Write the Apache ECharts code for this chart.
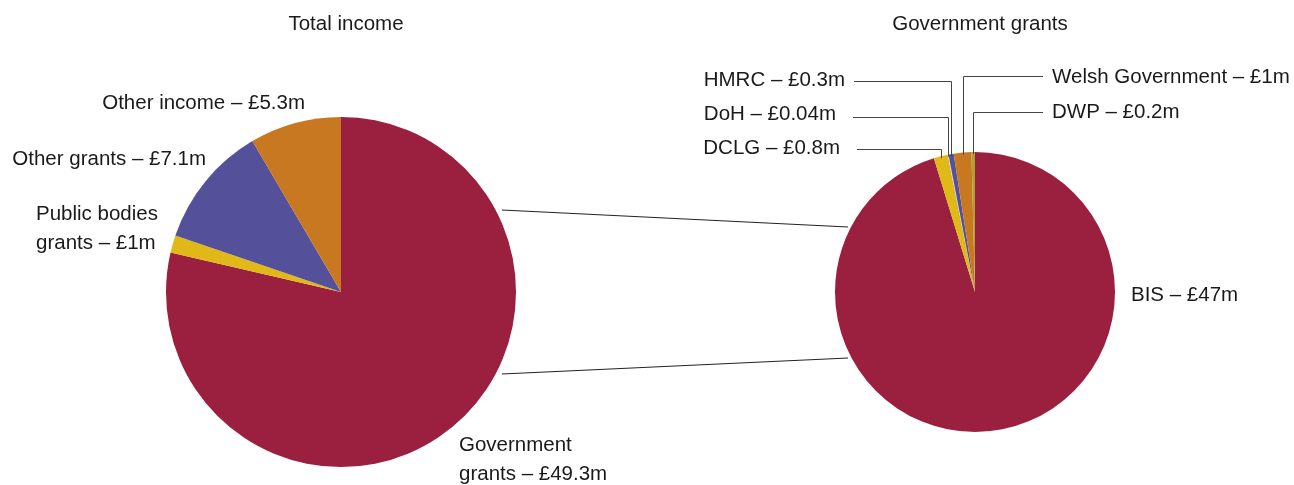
<!DOCTYPE html>
<html><head><meta charset="utf-8">
<script src="https://cdn.jsdelivr.net/npm/echarts@6/dist/echarts.min.js"></script>
<style>html,body{margin:0;padding:0;background:#fff}#c{width:1294px;height:485px}</style>
</head><body><div id="c"></div>
<script>
// ---- data ----
const incomeNames = ['Government\ngrants', 'Public bodies\ngrants', 'Other grants', 'Other income'];
const incomeValues = [49.3, 1, 7.1, 5.3];
const incomeLabels = ['£49.3m', '£1m', '£7.1m', '£5.3m'];
const grantNames = ['BIS', 'DCLG', 'DoH', 'HMRC', 'Welsh Government', 'DWP'];
const grantValues = [47, 0.8, 0.04, 0.3, 1, 0.2];
const grantLabels = ['£47m', '£0.8m', '£0.04m', '£0.3m', '£1m', '£0.2m'];

// ---- layout / style ----
const FONT = 'Liberation Sans';
const C1 = [341, 292], R1 = 175;
const C2 = [975, 292], R2 = 140;
const incomeColors = ['#9B2040', '#E0B818', '#545099', '#C87820'];
const grantColors = ['#9B2040', '#E0B818', '#C6DCF2', '#545099', '#C87820', '#B0A030'];
const incomeLabelPos = [
  {x: 459, y: 460, align: 'left'},
  {x: 36, y: 229, align: 'left'},
  {x: 206, y: 159, align: 'right'},
  {x: 305, y: 103, align: 'right'}
];
const grantLabelPos = [
  {x: 1131, y: 295, align: 'left'},
  {x: 840, y: 148, align: 'right', ly: 149, lx: 857},
  {x: 836, y: 114, align: 'right', ly: 117, lx: 853},
  {x: 845, y: 80, align: 'right', ly: 81, lx: 854},
  {x: 1052, y: 77, align: 'left', ly: 76, lx: 1043},
  {x: 1052, y: 112, align: 'left', ly: 112, lx: 1043}
];

const incomeData = incomeNames.map((n, i) => ({
  name: n, value: incomeValues[i], itemStyle: {color: incomeColors[i]},
  label: {formatter: n + ' – ' + incomeLabels[i]}
}));
const grantData = grantNames.map((n, i) => ({
  name: n, value: grantValues[i], itemStyle: {color: grantColors[i]},
  label: {formatter: n + ' – ' + grantLabels[i]}
}));

// leader lines for the grants pie, from each slice's mid angle
const graphics = [];
(function () {
  const total = grantValues.reduce((a, b) => a + b, 0);
  let acc = 0;
  grantValues.forEach((v, i) => {
    const mid = (acc + v / 2) / total * 2 * Math.PI;
    acc += v;
    if (i === 0) return;
    const x = Math.round(C2[0] + R2 * Math.sin(mid)) + 0.5;
    const yS = C2[1] - R2 * Math.cos(mid);
    const p = grantLabelPos[i];
    const ly = p.ly + 0.5;
    graphics.push({type: 'polyline', silent: true, z: 10,
      shape: {points: [[x, yS + 2], [x, ly], [p.lx, ly]]},
      style: {stroke: '#444', lineWidth: 1, fill: null}});
  });
})();
// connector lines between the pies
graphics.push({type: 'line', silent: true, shape: {x1: 502, y1: 210, x2: 848, y2: 227}, style: {stroke: '#222', lineWidth: 1}});
graphics.push({type: 'line', silent: true, shape: {x1: 502, y1: 374, x2: 848, y2: 358}, style: {stroke: '#222', lineWidth: 1}});

const labelStyle = {show: true, color: '#1a1a1a', fontFamily: FONT, fontSize: 20.5, lineHeight: 29, overflow: 'none', width: 400};
function layoutFor(pos) {
  return function (p) {
    const q = pos[p.dataIndex];
    return {x: q.x, y: q.y, align: q.align, verticalAlign: 'middle', hideOverlap: false, moveOverlap: false};
  };
}

const chart = echarts.init(document.getElementById('c'), null, {renderer: 'canvas'});
chart.setOption({
  animation: false,
  backgroundColor: '#fff',
  title: [
    {text: 'Total income', left: C1[0], top: 9, textAlign: 'center',
     textStyle: {fontFamily: FONT, fontSize: 20.5, fontWeight: 'normal', color: '#1a1a1a'}},
    {text: 'Government grants', left: C2[0], top: 9, textAlign: 'center',
     textStyle: {fontFamily: FONT, fontSize: 20.5, fontWeight: 'normal', color: '#1a1a1a'}}
  ],
  series: [
    {type: 'pie', center: C1, radius: R1, startAngle: 90, clockwise: true,
     data: incomeData, label: labelStyle, labelLine: {show: false},
     labelLayout: layoutFor(incomeLabelPos),
     itemStyle: {borderWidth: 0}, emphasis: {disabled: true}},
    {type: 'pie', center: C2, radius: R2, startAngle: 90, clockwise: true,
     minAngle: 0, data: grantData, label: labelStyle, labelLine: {show: false},
     labelLayout: layoutFor(grantLabelPos),
     itemStyle: {borderWidth: 0}, emphasis: {disabled: true}}
  ],
  graphic: graphics
});
</script></body></html>
